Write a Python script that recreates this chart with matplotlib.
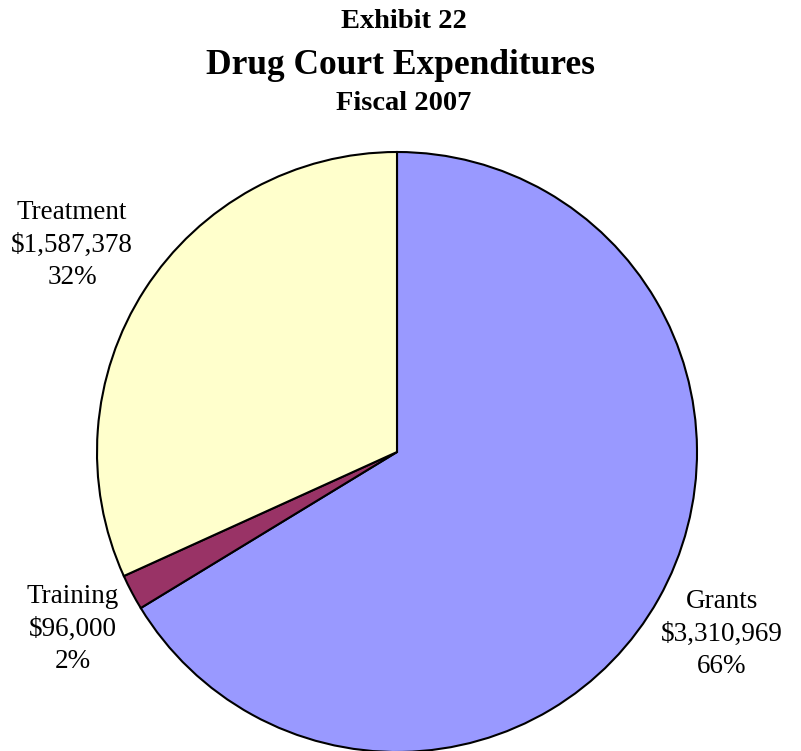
import matplotlib
matplotlib.use("Agg")
import matplotlib.pyplot as plt

categories = ["Grants", "Training", "Treatment"]
amounts = [3310969, 96000, 1587378]
percents = ["66%", "2%", "32%"]
colors = ["#9999FF", "#993366", "#FFFFCC"]

W, H = 801, 751
fig = plt.figure(figsize=(W / 100, H / 100), dpi=100)
plt.rcParams['font.family'] = ['Liberation Serif', 'DejaVu Serif']

ax = fig.add_axes([97 / W, (H - 752) / H, 600 / W, 600 / H])
ax.pie(amounts, colors=colors, startangle=90, counterclock=False,
       wedgeprops=dict(edgecolor="black", linewidth=1.5))
ax.set_aspect("equal")
ax.set_xlim(-1, 1)
ax.set_ylim(-1, 1)

def px(x, y):
    return x / W, 1 - y / H

fig.text(*px(404, 21), "Exhibit 22", ha="center", va="center", fontsize=20.5, fontweight="bold")
fig.text(*px(401, 65), "Drug Court Expenditures", ha="center", va="center", fontsize=25.5, fontweight="bold")
fig.text(*px(404, 104), "Fiscal 2007", ha="center", va="center", fontsize=20.5, fontweight="bold")

label_pos = {"Grants": (722, 634), "Training": (73, 629), "Treatment": (72, 245)}
for cat, amt, pct in zip(categories, amounts, percents):
    x, y = label_pos[cat]
    fig.text(*px(x, y), f"{cat}\n${amt:,}\n{pct}", ha="center", va="center",
             fontsize=19.5, linespacing=1.38)

fig.savefig("out.png", dpi=100)
